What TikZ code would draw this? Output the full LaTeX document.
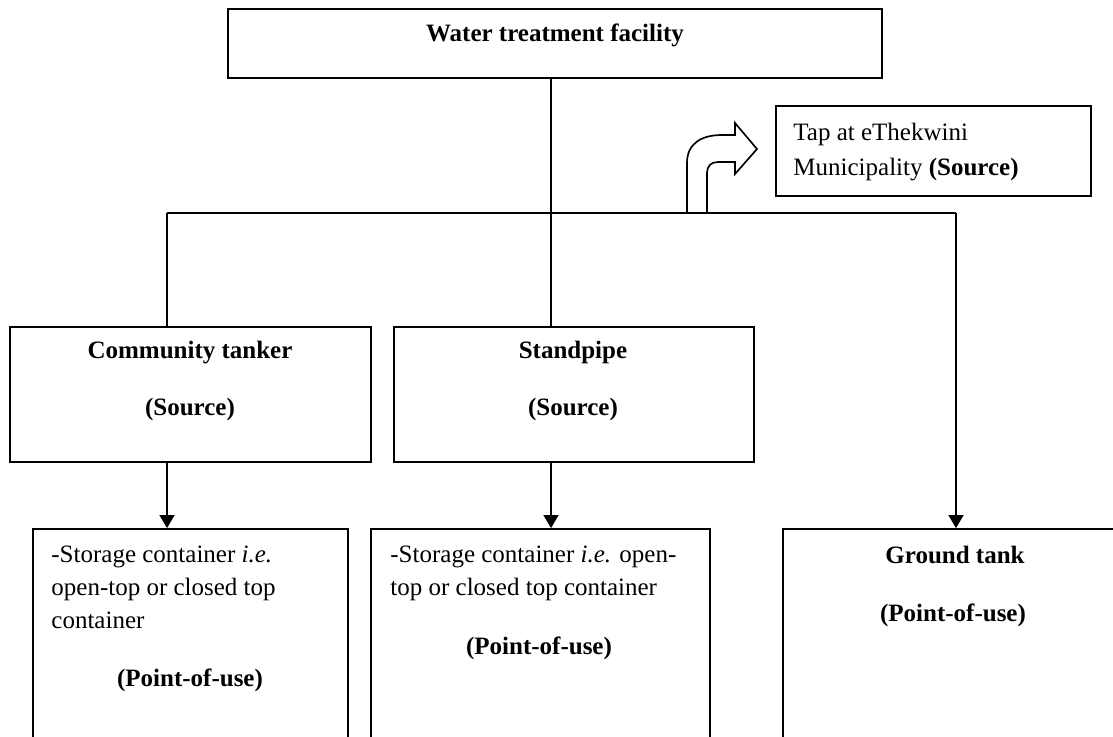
\documentclass[tikz,border=0pt]{standalone}
\usepackage{fontspec}
\setmainfont{Liberation Serif}
\usetikzlibrary{fit,arrows.meta}

\begin{document}
\begin{tikzpicture}[x=0.48pt, y=-0.48pt,
    box/.style={draw, line width=0.9pt, inner sep=0pt},
    lbl/.style={font=\fontsize{12}{15.8}\selectfont, inner sep=0pt},
    link/.style={line width=0.6pt},
    down/.style={link, -{Triangle[length=6.2pt, width=7.2pt]}}]
    \useasboundingbox (0,0) rectangle (1113,736);
    \clip (0,0) rectangle (1113,736);
    % boxes
    \node [box, fit={(228,9) (882,78)}] (plant) {};
    \node [box, fit={(776,106) (1091,196)}] (tap) {};
    \node [box, fit={(10,327) (371,462)}] (tanker) {};
    \node [box, fit={(394,327) (754,462)}] (pipe) {};
    \node [box, fit={(33,529) (348,760)}] (storeA) {};
    \node [box, fit={(371,529) (710,760)}] (storeB) {};
    \node [box, fit={(783,529) (1130,760)}] (ground) {};
    % texts
    \node [lbl] (plantTxt) at (555,35) {\textbf{Water treatment facility}};
    \node [lbl, anchor=north west, align=left] (tapTxt) at (793,123)
      {Tap at eThekwini\\[1pt]Municipality \textbf{(Source)}};
    \node [lbl, align=center] (tankerTxt) at (190,381)
      {\textbf{Community tanker}\\[12pt]\textbf{(Source)}};
    \node [lbl, align=center] (pipeTxt) at (573,381)
      {\textbf{Standpipe}\\[12pt]\textbf{(Source)}};
    \node [lbl, anchor=north west, align=left] (storeATxt) at (51,546)
      {-Storage container \textit{i.e.}\\open-top or closed top\\container};
    \node [lbl] (storeAUse) at (190,680) {\textbf{(Point-of-use)}};
    \node [lbl, anchor=north west, align=left] (storeBTxt) at (390,546)
      {-Storage container \textit{i.e.} open-\\top or closed top container};
    \node [lbl] (storeBUse) at (539,648) {\textbf{(Point-of-use)}};
    \node [lbl] (groundTxt) at (955,555) {\textbf{Ground tank}};
    \node [lbl] (groundUse) at (953,615) {\textbf{(Point-of-use)}};
    % connectors
    \coordinate (hub) at (551,213);
    \coordinate (jleft) at (167,213);
    \coordinate (jright) at (956,213);
    \draw [link] (plant.south -| hub) -- (hub |- pipe.north);
    \draw [link] (jleft) -- (jright);
    \draw [link] (jleft) -- (jleft |- tanker.north);
    \draw [down] (jright) -- (jright |- ground.north);
    \draw [down] (tanker.south -| jleft) -- (storeA.north -| jleft);
    \draw [down] (pipe.south -| hub) -- (storeB.north -| hub);
    % bent arrow to the tap
    \draw [line width=0.8pt] (687,213) -- (687,163)
      .. controls (687,143) and (702,135) .. (722,135) -- (735,135)
      -- (735,123) -- (757,149) -- (735,174) -- (735,162) -- (718,162)
      .. controls (711,162) and (707,166) .. (707,173) -- (707,213);
\end{tikzpicture}
\end{document}
